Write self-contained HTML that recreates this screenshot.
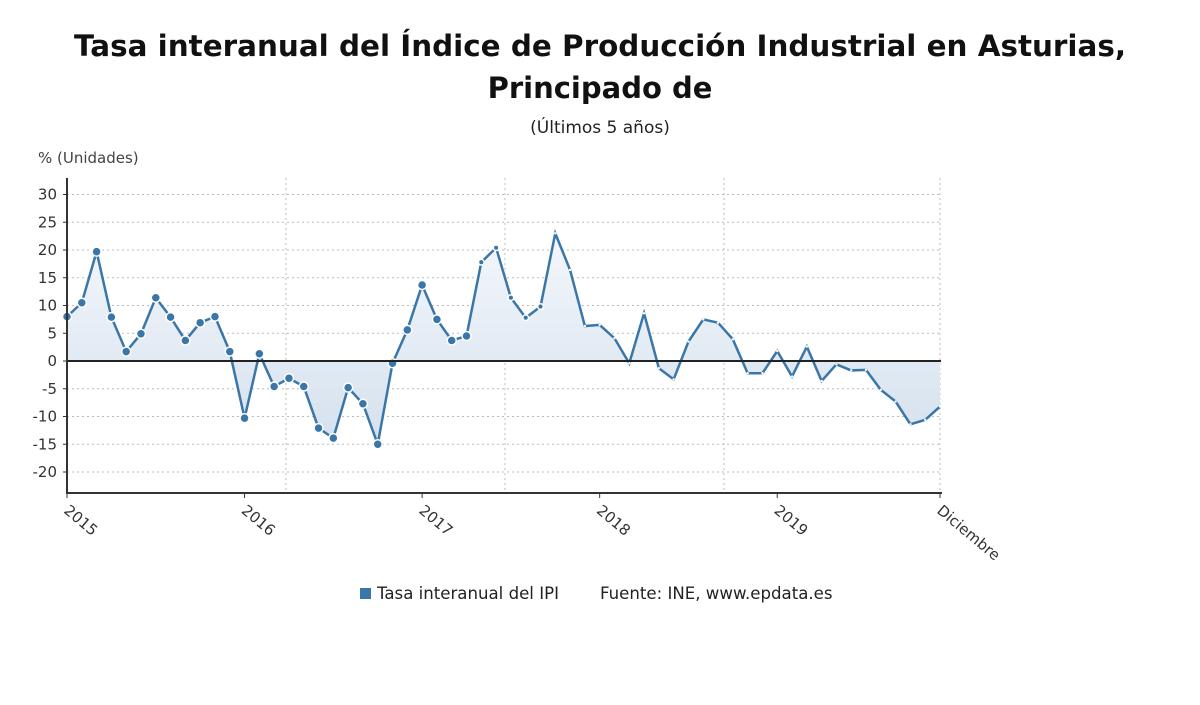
<!DOCTYPE html>
<html><head><meta charset="utf-8"><style>
body{margin:0;background:#fff;font-family:"DejaVu Sans","Liberation Sans",sans-serif;}
#wrap{position:relative;width:1200px;height:705px;overflow:hidden;}
</style></head><body>
<div id="wrap">
<svg id="svg" width="1200" height="705" font-family="DejaVu Sans, Liberation Sans, sans-serif">
<text x="600" y="56" text-anchor="middle" font-size="29" font-weight="bold" fill="#111" textLength="1052" lengthAdjust="spacingAndGlyphs">Tasa interanual del Índice de Producción Industrial en Asturias,</text>
<text x="600" y="98" text-anchor="middle" font-size="29" font-weight="bold" fill="#111">Principado de</text>
<text x="600" y="133" text-anchor="middle" font-size="17" fill="#222">(Últimos 5 años)</text>
<text x="38" y="163" font-size="15" fill="#444">% (Unidades)</text>
<g id="grid"></g><g id="area"></g><g id="line"></g><g id="axes"></g>
<rect x="360" y="588" width="11" height="11" fill="#3a76a8"/>
<text x="377" y="599" font-size="16.6" fill="#222">Tasa interanual del IPI</text>
<text x="600" y="599" font-size="16.6" fill="#222">Fuente: INE, www.epdata.es</text>
</svg></div>
<script>
const values=[8.0,10.5,19.7,7.9,1.7,4.9,11.4,7.9,3.7,6.9,8.0,1.7,-10.3,1.3,-4.6,-3.1,-4.6,-12.1,-13.9,-4.8,-7.7,-15.0,-0.4,5.6,13.7,7.5,3.7,4.5,17.8,20.4,11.4,7.8,9.8,23.0,16.4,6.3,6.5,4.1,-0.4,8.6,-1.3,-3.3,3.5,7.5,6.9,3.9,-2.2,-2.2,1.8,-2.8,2.6,-3.6,-0.6,-1.7,-1.6,-5.2,-7.3,-11.4,-10.6,-8.2];
const yTicks=[30,25,20,15,10,5,0,-5,-10,-15,-20];
const xLabels=["2015","2016","2017","2018","2019","Diciembre"];
const xLabelIdx=[0,12,24,36,48,59];
const vGridIdx=[14.8,29.6,44.4,59];
const NS="http://www.w3.org/2000/svg";
const X0=67,X1=940,Y30=194.5,Y0=361;
const x=i=>X0+(X1-X0)*i/(values.length-1);
const y=v=>Y0-(Y0-Y30)*v/30;
function mk(tag,attrs,parent){const e=document.createElementNS(NS,tag);for(const k in attrs)e.setAttribute(k,attrs[k]);document.getElementById(parent).appendChild(e);return e;}
yTicks.forEach(t=>{
 if(t!==0){const g=mk('line',{x1:X0,x2:941,y1:y(t),y2:y(t),stroke:'#bbb','stroke-dasharray':'2,3'},'grid');
 
 }
 const l=mk('text',{x:57,y:y(t)+5,'text-anchor':'end','font-size':15,fill:'#333'},'axes');l.textContent=t;
 
 
 const tk=mk('line',{x1:X0-4,x2:X0,y1:y(t),y2:y(t),stroke:'#333'},'axes');
 
 
});
vGridIdx.forEach(i=>{const g=mk('line',{x1:x(i),x2:x(i),y1:178,y2:493,stroke:'#bbb','stroke-dasharray':'2,3'},'grid');
 
 });
let d='M'+x(0)+','+Y0;values.forEach((v,i)=>d+=' L'+x(i)+','+y(v));d+=' L'+x(values.length-1)+','+Y0+'Z';
const defs=mk('defs',{},'area');defs.innerHTML='<linearGradient id="gr" x1="0" y1="0" x2="0" y2="1"><stop offset="0" stop-color="#f4f7fb"/><stop offset="1" stop-color="#d5e1ee"/></linearGradient>';
const a=mk('path',{d:d,fill:'url(#gr)'},'area');


const z=mk('line',{x1:X0,x2:941,y1:Y0,y2:Y0,stroke:'#222','stroke-width':2},'axes');


const ln=mk('polyline',{points:values.map((v,i)=>x(i)+','+y(v)).join(' '),fill:'none',stroke:'#3a76a8','stroke-width':2.5},'line');


values.forEach((v,i)=>{
 let r=i<28?4.5:(i<33?2.8:1.2);
 const c=mk('circle',{cx:x(i),cy:y(v),r:r,fill:i<33?'#3a76a8':'#fff',stroke:'#fff','stroke-width':i<33?1.5:0},'line');
 
 
});
const ya=mk('line',{x1:X0,x2:X0,y1:178,y2:494,stroke:'#333','stroke-width':2},'axes');


const xa=mk('line',{x1:X0,x2:942,y1:493,y2:493,stroke:'#333','stroke-width':2},'axes');


xLabels.forEach((s,k)=>{const px=x(xLabelIdx[k]);
 const tk=mk('line',{x1:px,x2:px,y1:493,y2:498,stroke:'#333'},'axes');
 
 
 const t=mk('text',{x:px-4,y:512,'font-size':15,fill:'#333',transform:'rotate(40 '+(px-4)+' 512)'},'axes');t.textContent=s;
 
 
});
</script>
</body></html>
